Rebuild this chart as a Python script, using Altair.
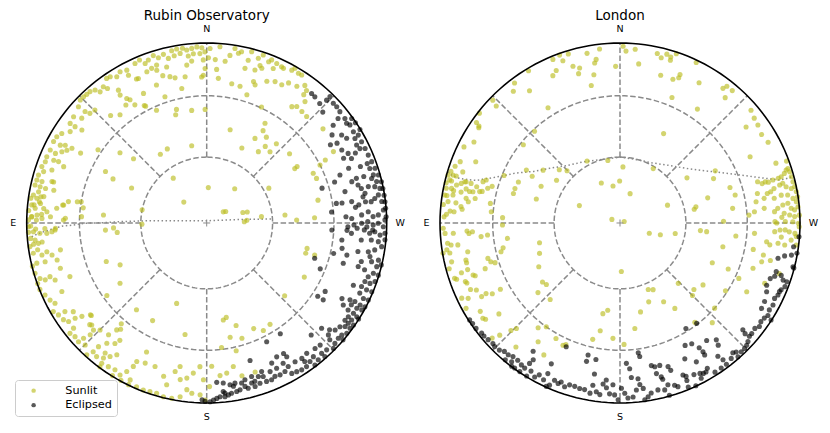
import altair as alt
import pandas as pd

SITES = ["Rubin Observatory", "London"]
STATUS = ["Sunlit", "Eclipsed"]
COLORS = ["#bcbd22", "#000000"]
CARDINALS = [("N", 0), ("E", 90), ("S", 180), ("W", 270)]
RING_ELEVATIONS = [30, 60]
SPOKE_AZIMUTHS = [0, 45, 90, 135, 180, 225, 270, 315]

# (azimuth deg, elevation deg)
rubin_sunlit = [
    (11.5, 2.7), (9.8, 2.2), (7.9, 2.3), (6.6, 3.7), (4.9, 3), (3.2, 2.3), (1.6, 3), (0.6, 5.5), (2.3, 6.5),
    (4.5, 6.3), (6.3, 7.4), (8.9, 5.2), (11, 6), (13.1, 6.8), (14.4, 3.7), (16.3, 4.9), (17.7, 2.7), (19.7, 4.3),
    (21.1, 5.6), (22.4, 2.3), (24.2, 3.2), (17.6, 8.8), (14.4, 11.5), (7.2, 12.6), (5.3, 10.6), (1.2, 10.3),
    (0.6, 15.3), (1.3, 19), (8.4, 19), (12.3, 18.6), (14.1, 17.3), (16.6, 15.7), (18.1, 11.7), (19.6, 9.7),
    (21.6, 10.6), (25.3, 12.2), (27.9, 7.9), (27.6, 4.7), (29.8, 3.6), (31.6, 5.2), (33.4, 3), (34.7, 2.6),
    (37.2, 5.6), (36.4, 7.9), (39.1, 6.8), (40, 4), (41.6, 2.7), (43, 2.6), (44.3, 2.3), (33.6, 12.4),
    (34.1, 15.3), (32.7, 18.9), (31.9, 20.5), (34.4, 21.6), (31.3, 24.2), (26, 21), (27.6, 27.6), (20, 19.5),
    (18.3, 27), (14.9, 35), (10.5, 25), (7.6, 37), (2, 20), (0.8, 37),
    (45.8, 2.3), (47.8, 4.3), (47.5, 9.2), (46.8, 12), (44.7, 12.7), (50, 10.3), (51.4, 6), (53.9, 6.8),
    (53.8, 10.3), (53.3, 14.6), (56.2, 9.6), (58.3, 6), (60.1, 4.4), (62, 4.1), (62, 8.7), (61.2, 11.3),
    (61, 15.5), (62.5, 13.5), (63.8, 11.3), (65.3, 8.3), (65, 4.6), (67.5, 4.3), (69.2, 4.6), (71.1, 3.6),
    (67.7, 9), (67.5, 11.9), (68.5, 15.7), (71.1, 10), (72.5, 5.6), (74.1, 3.2), (75.8, 3), (75.9, 6.3),
    (77.5, 2.6), (77.7, 5.9), (77.9, 9.3), (75, 12), (77.9, 14.2), (79.5, 5.6), (80.8, 2.8), (81.7, 5.2),
    (80.8, 9.2), (83.3, 7.8), (84.1, 2.6), (85.1, 4.9), (84.9, 10), (86, 12), (87.3, 6.3), (87.9, 3.1),
    (89, 1.1), (88.4, 9.3), (87.7, 14.2), (84.4, 17.4), (82.8, 21), (81.2, 23.3), (88.1, 22.5), (80.4, 30),
    (87.1, 31), (88.8, 21.5),
    (38.7, 24), (41.8, 21), (51, 38), (48.7, 45), (34, 52), (16, 37.5), (28, 51.5), (11, 54), (47.6, 76),
    (36.7, 64.6), (63, 37), (64.8, 42), (65, 52), (56, 28), (61, 21), (80.7, 28), (83, 31.5), (85.6, 42),
    (75, 13), (24, 32), (28, 27), (26, 12),
    (94, 43), (93, 47), (96, 48.6), (78.5, 60), (91, 60.5), (82.8, 7), (81, 7.5), (82.9, 20.5), (92, 17),
    (92, 11), (96.6, 8.8), (86, 1), (88, 3), (91, 2.5), (93, 1), (95, 2), (97, 3.5), (84, 4), (82, 1.5),
    (89, 6), (92, 5.5), (99, 5.5), (87, 9),
    (91.2, 1.1), (92.9, 4.1), (93.5, 7.9), (93.7, 12), (93.2, 15), (92.6, 16.8), (95.7, 4.7), (96.9, 6.5),
    (97.6, 1.1), (99.9, 2.5), (101, 7.5), (100.2, 10.7), (101.7, 13.3), (100.4, 18.5), (103.9, 15.5),
    (103.5, 8.5), (103.3, 3.4), (103.9, 0.3), (106.3, 0.7), (108.4, 2.7), (109.4, 5.5), (108.9, 8.8),
    (110.6, 11), (107.2, 16), (111.4, 19.5), (109.7, 0.3), (111.7, 0.3), (114, 1.9), (116.2, 3.4),
    (117.9, 5.2), (115.3, 12), (122, 7.9), (120, 1.8), (121.8, 3.5), (124, 4.5), (125.5, 6.4), (123.6, 12),
    (125.9, 10.7), (126.8, 14.5), (128.3, 18.8), (131.6, 15.7), (133.4, 14.5), (128.3, 6.4), (128.9, 2.7),
    (130.8, 3.8), (132.8, 3.3), (133.1, 7), (135.1, 4.9), (133.8, 11.3), (135.1, 17.2), (138.7, 18.5),
    (139.9, 23.4), (143.5, 20), (142.7, 17), (140.3, 14.2), (138.8, 9.6), (138.6, 5.2), (137.7, 1.1),
    (140.5, 4.3), (142.6, 6.2), (144.1, 9.3), (145.7, 12.4), (143.2, 3), (145.6, 3.7), (148, 4.3),
    (150.3, 3.2), (151.7, 7), (152.9, 11.5), (153.2, 14.9), (156.3, 16.1), (160.2, 16.4), (164.3, 12.6),
    (166.1, 8.2), (168, 16.8), (169.5, 20), (170.4, 12.8), (172.7, 14.2), (174.9, 17.4), (177.3, 21.2),
    (178.8, 14), (154, 3.4), (156.8, 1.2), (159.2, 0.9), (161.4, 1.3), (163.6, 1.6), (166, 0.6), (168.7, 0.8),
    (171.3, 2.7), (173.2, 7.5), (175, 5.7), (177.8, 5), (179.5, 1.9), (151.4, 0.5), (154.2, 0.3),
    (148.3, 0.4), (155, 22), (151, 38), (141, 38), (126, 32), (124.8, 41), (111, 40), (115.8, 45.6),
    (159.5, 50.6), (169, 37), (143.4, 0.6), (142, 9.2), (141, 25), (139.7, 27.5), (128.7, 19), (131, 15),
    (185, 16), (193, 14), (181, 10), (193, 28), (190.5, 20), (186.8, 31), (182, 21.5), (198, 14), (187.6, 17),
    (255.8, 42), (253, 42), (253.5, 37.5), (241, 38), (227, 40.5), (189.7, 44.5), (191.7, 45.5), (196, 40.5),
    (204, 36), (207.8, 33), (212, 34), (191.6, 35.5), (197, 33.5),
    (352.1, 6.7), (348.5, 3.3), (345.7, 7.4), (341.3, 8.4), (338.3, 2.8), (334.4, 4.2), (330.3, 1.1),
    (327.3, 2.6), (355.4, 20.5), (356.3, 15.6), (349.8, 22.5), (346.3, 22.9), (342.6, 26.3), (340.7, 19.8),
    (341.7, 18.3), (337, 15.6), (334.2, 13.8), (331.5, 13.7), (329.7, 10.8), (326.6, 9.9), (324.5, 6.8),
    (323, 8.7), (322.9, 11.6), (358.9, 3.4), (355.7, 2.1), (350.8, 2), (349.4, 4.6), (345.3, 1.8),
    (342.6, 4.6), (341.4, 1.7), (339, 4.5), (336.3, 3.6), (333.6, 4.6), (330.9, 3.2), (328.5, 2.8),
    (340.4, 9.6), (342.5, 11.9), (346.1, 12.5), (353.5, 10.5), (357, 10), (359.4, 9), (336.7, 7.3),
    (334.7, 29.5), (323.8, 21), (322.3, 19.3), (321, 14.3), (319.5, 19.7), (316.8, 20), (329.7, 36),
    (328.6, 39.7), (325.2, 41.5), (318.7, 41), (330.3, 45), (334.9, 52), (324.1, 49.5), (322.6, 45.5),
    (318.4, 46), (309.9, 39.8), (302, 40.5), (301.7, 42), (295, 35), (292.1, 34.5), (298, 26.3), (309, 18),
    (299.4, 20.3), (297.1, 30), (281.6, 37), (357.4, 74), (320.7, 70), (299.3, 57.5), (301, 80), (286.2, 73),
    (285.2, 71), (274, 71.8), (276.6, 65), (275.8, 54), (271.9, 48.6), (272.8, 39.8), (345.9, 45.6),
    (304, 81), (272, 73),
]

rubin_eclipsed = [
    (321, 8.2), (319.4, 8.5), (316.6, 9.5), (313.7, 11.8), (315.7, 5.2), (315.7, 2.2), (313.4, 3.6),
    (311.8, 3.5), (309.9, 4), (308.5, 7.5), (307.1, 4.2), (305.5, 5.1), (304.4, 4), (301.9, 4.5), (299.7, 5.8),
    (300.1, 3), (297.7, 3.2), (295.9, 6), (295.2, 3.1), (292.8, 3), (290.3, 5.5), (290.4, 2.5), (288.5, 5),
    (288, 1.9), (286.1, 4.1), (285.6, 1.1), (283.7, 3.2), (283.3, 0.3), (281.3, 2.1), (281.1, 0.3),
    (278.9, 0.3), (279.3, 3.8), (276.8, 0.3), (277, 2.3), (274.7, 0.3), (274.2, 1.8), (272, 0.3), (271, 1.1),
    (272.7, 5.1), (272.2, 8.3), (274, 11), (277.4, 8.7), (278.3, 6.3), (280.6, 11.5), (282.7, 8.8),
    (282.6, 13), (284.1, 14.4), (286.6, 14.3), (285.9, 17.3), (290.2, 9.9), (286.5, 9.9), (295.2, 9.6),
    (294, 13), (296.2, 13.5), (295.3, 17), (298.4, 15.8), (301.5, 16.2), (305.1, 16), (307.7, 12.2),
    (302.3, 19.8), (291.1, 16.6), (289.8, 22.4), (287.8, 26.3), (282.8, 22.3), (278.6, 28), (286.8, 33.5),
    (278.4, 19.7), (276.8, 16), (272.6, 23.6), (271.8, 20.5), (273, 14.9), (297.5, 6.8), (301.4, 0.3),
    (304, 0.4), (305.8, 0.8), (303.1, 11.5), (301.2, 10), (282.2, 5), (285.1, 5.7),
    (266.8, 31), (267, 23), (268, 17.5), (268.6, 12), (267.6, 8.5), (275, 31), (278.4, 25), (276, 18),
    (277.6, 12), (279.5, 13),
    (269.2, 19.3), (269.9, 15), (270.5, 11.5), (269.3, 8.3), (269.9, 5.3), (268.8, 2.1), (266.7, 0.9),
    (266, 3.9), (267, 7.2), (266.4, 10.2), (267.5, 13.4), (264.1, 8.9), (263.8, 4.6), (262.3, 2.2),
    (264.6, 0.6), (260.9, 6.1), (259.9, 9.7), (258.4, 8.2), (256.8, 6.6), (257.8, 2.7), (255.6, 2.8),
    (256.5, 0.3), (253.2, 3.7), (251.6, 6.1), (249.7, 3.7), (250.8, 1.1), (253.1, 0.4), (249.7, 7),
    (247.7, 7.8), (247.3, 4.2), (247.4, 0.8), (244.5, 0.6), (244.3, 3.8), (241.9, 3.8), (240.4, 4.6),
    (240.7, 1.4), (242.1, 0.6), (240.5, 8.5), (238.4, 8.6), (238.4, 4.8), (238, 1.9), (237.7, 0.2),
    (236.2, 3.5), (234.7, 4.1), (233.2, 4.5), (233.7, 1.4), (235.2, 0.8), (231.8, 1.1), (230.3, 2.8),
    (228.8, 3.2), (229.4, 0.3), (226.8, 2.6), (226.5, 6.4), (225.3, 1.1), (223.4, 3.4), (221.4, 3.9),
    (221.5, 1.1), (219.2, 2.2), (218.6, 5.6), (216.7, 4.5), (217.3, 0.9), (215.3, 6.4), (214.8, 3.2),
    (212.9, 3.2), (211.2, 3.9), (209.5, 4.5), (209.6, 9.2), (207.8, 7.5), (205.8, 7), (204, 7.5),
    (202.5, 6.4), (200.7, 6.6), (200.2, 10), (198.6, 11), (198.4, 6.9), (196.5, 5.9), (195.7, 8.5),
    (194.1, 6), (193.2, 7.5), (191.3, 6.1), (190.1, 5.5), (188.3, 5), (187.2, 4.2), (186, 3.4), (184.4, 3.6),
    (183.3, 2.7), (182.2, 1.8), (181.1, 0.8), (185.6, 6.6), (189.3, 8.9), (192.3, 9.9), (196.3, 12.2),
    (200.3, 13.1), (203.1, 11.2), (205.7, 11.4), (208.6, 12.3), (212.5, 9.5), (215.1, 8.9), (217.5, 9.6),
    (220.8, 8.7), (222.9, 8.2), (227.4, 9), (230.2, 7.9), (232.1, 6.9), (234.9, 6.8), (236.5, 6.3),
    (242.1, 7.6), (245.4, 7.2), (253.5, 9.4), (256, 12.5), (259.3, 15.6), (263.7, 14.7), (265.9, 20.5),
    (268.5, 22.6), (259.4, 24.5), (253.6, 22), (254, 13.5), (247, 12.5), (240.8, 15), (229, 10.5), (223, 16),
    (213.6, 27), (206.8, 27), (197.5, 21), (210.5, 17), (251.9, 37), (248, 32.5), (240, 25), (236.6, 27),
    (236.6, 23.5), (241.8, 10.6), (239, 12.5), (227.5, 14.5), (193.7, 11.3), (190, 10.6), (183.6, 12.3),
    (185.9, 11.6), (188.2, 10.1), (210.9, 14.5), (207.6, 17.2), (204.9, 15.3), (196.9, 8.9), (186.1, 5.6),
    (262.8, 25.3), (257.1, 21.2), (256.5, 28.3), (178.5, 2), (179.5, 1),
]

london_sunlit = [
    (19.8, 1), (17, 2), (11, 4.5), (6.7, 3), (22.3, 2), (19.4, 5), (16.7, 10), (14.6, 12), (8.3, 9), (9, 11),
    (1.6, 14), (22.7, 9), (24.5, 11), (15.5, 15), (10, 17.5), (11.8, 23), (31, 1.5), (37, 3), (39, 6.5),
    (34.4, 12), (32, 25.5), (46.6, 6), (46, 2), (52, 1), (55, 3), (55.5, 5.5), (56, 6), (43, 31), (51, 31.5),
    (61, 8), (64, 4), (67, 14), (69, 5.5), (28, 58), (11, 61), (48.7, 53), (45.4, 56), (60.5, 40),
    (55.5, 47), (67.7, 31), (68, 39), (62, 44), (56, 55), (25, 70), (0.5, 71), (10.7, 73), (65, 50),
    (71.8, 38.5), (74.5, 38.5), (74, 50), (66.8, 70), (66, 86), (87.4, 35), (85, 29), (81.4, 28), (74, 27),
    (75.3, 25), (77.1, 22.5), (75.8, 19), (78.2, 15.7), (80.9, 14.5), (84.1, 12.2), (86.1, 8.4), (87.1, 3.9),
    (82.9, 4.2), (80.5, 6.6), (78.4, 5), (76.9, 7.5), (76, 10), (75.1, 11.8), (75.1, 15.5), (78, 17.6),
    (77.4, 21.2), (73.2, 21.6), (72.2, 23), (74.4, 0.9), (75.8, 2.7), (74, 3.9), (78.7, 1.8), (80.9, 1.6),
    (77.5, 13.5), (80.4, 19.5), (73, 2), (76, 4), (77, 1), (79, 6.5), (81, 3), (83, 9), (84, 1.5), (86, 6),
    (74, 6), (72, 9), (79, 11), (82, 16), (88, 2.5), (85, 13), (71, 3.5), (75, 12.5),
    (359, 2), (358, 5), (355, 3.5), (353.3, 12), (347.6, 4), (346, 6), (344.5, 3), (343, 4), (342.8, 6),
    (341.6, 1), (344.6, 16), (339.8, 16), (338, 14), (338, 12), (334.6, 1.5), (330.6, 11.5), (322.6, 6.5),
    (322, 4), (320, 10), (319.7, 4), (337.5, 25.5), (325.8, 24.5), (334, 44), (310.7, 4.5), (308, 6),
    (305.4, 6.7), (302, 8), (307.3, 13), (298.6, 7), (297, 20), (291, 8), (290.4, 1.5), (357, 64.5),
    (328.6, 61), (304, 53), (298.7, 39.5), (295.4, 42), (287.9, 36), (283.7, 34.5), (286, 48), (280.5, 55.5),
    (282, 54.5), (290.6, 67), (341, 76), (290, 88), (271, 42), (277.4, 37), (273.5, 29), (270.5, 15),
    (272, 11), (274.8, 26),
    (286.7, 21.3), (285.5, 19.2), (285.8, 17.3), (285.4, 15.6), (285.7, 12.8), (285.8, 9.5), (286, 7.6),
    (286.8, 5.2), (287.7, 3.5), (288, 2.2), (286.8, 1.7), (285.1, 1.6), (283.4, 1.4), (281.8, 1), (280.1, 0.6),
    (278.4, 0.3), (281.4, 3.3), (282.3, 6.2), (283.7, 7.7), (283.4, 9.7), (282.6, 13.4), (281.7, 15.6),
    (281.3, 17.7), (279.7, 19.9), (279.1, 14.3), (279.8, 10), (279.5, 6.2), (278.1, 3.3), (276.9, 1.5),
    (275.2, 0.8), (274.3, 3.1), (274.9, 5.1), (276.7, 6.8), (276.3, 9.9), (275.3, 13), (274.2, 15),
    (273.4, 9.5), (272.7, 6.3), (272.1, 3.3), (272.5, 0.3), (282.1, 23), (278.9, 24.5), (275.8, 20.6),
    (91.7, 2), (93.4, 3), (93.5, 8), (93, 16), (94, 17), (93.4, 19), (95.6, 23.5), (95.2, 27), (91, 35),
    (96.7, 4), (97.4, 6), (98.8, 3), (97.7, 10), (99.7, 0.3), (100, 4.5), (100.7, 15), (103.5, 13),
    (104.5, 13), (103, 4.5), (105, 2), (107, 12.5), (107.4, 8.5), (108.5, 3.5), (109, 4.5), (110.7, 9),
    (111.4, 9.5), (109.5, 14.5), (110, 15.5), (114, 10), (115, 13), (117.8, 17), (115.4, 3), (116.4, 6.5),
    (118, 14), (122.3, 9), (119, 2.5), (124.8, 8), (125.6, 9), (119, 20), (119, 25), (105, 25), (106.7, 26),
    (107.6, 28), (108.7, 22), (102, 34), (103.6, 32.5), (97.8, 37), (103.8, 52), (110.7, 50.5), (118.3, 47.5),
    (127.3, 45), (129.9, 45.7), (130.3, 40), (137.6, 42), (126.9, 17), (134.6, 16), (135.5, 19), (132, 5),
    (133, 9.5), (140, 11), (142, 27), (144.6, 30), (145.4, 21), (150, 16.5), (151, 27.5), (155, 26),
    (156, 27), (166.8, 34), (169.6, 39), (169.3, 47.5), (172, 49.5), (176.5, 36), (181.6, 68),
    (250.8, 76), (253.8, 71), (259.3, 64.5), (264.6, 53), (264.3, 50), (263.6, 35.5), (257, 41), (265.6, 26),
    (258.8, 25.5), (257.4, 19.5), (262.7, 19), (261.7, 17), (266.8, 15), (267.5, 12), (267.6, 9), (267, 6.5),
    (266.6, 3), (265, 11), (262.7, 12.5), (262.4, 8.5), (264.3, 5), (262.9, 1.5), (265.6, 2), (268.8, 0.5),
    (269.9, 1), (270.4, 4.5), (270.5, 9), (270, 14), (254.7, 19.5), (256, 15), (251.2, 23), (247, 35),
    (246.7, 43.5), (245, 28), (247.4, 14), (252.4, 8), (241.5, 21), (237.3, 31), (233.3, 42), (228, 44),
    (224, 51.5), (225, 42.5), (203, 57), (206.4, 56), (200, 51.5), (209, 48.6), (193, 48), (212.7, 43),
    (188, 40.5), (181.9, 33), (217, 31.5), (222.8, 25.5), (228, 30),
]

london_eclipsed = [
    (122.8, 0.7), (124.3, 1), (126.2, 1), (128.5, 2), (129.7, 2), (131.5, 2.5), (133.5, 3), (134.6, 2.5),
    (136.5, 3), (138, 4.5), (139.7, 4.5), (141.3, 5.5), (142, 2.5), (143.3, 5.5), (145.2, 4.5), (146.7, 4),
    (147.2, 8), (147.6, 11), (149, 4.5), (151, 2.5), (152, 5), (154, 3.5), (154.4, 8), (154, 14),
    (157.4, 6), (158.9, 5), (159.7, 6.5), (161.3, 4.5), (162.7, 6.5), (164.5, 6.5), (166.3, 6), (168, 6),
    (170, 4.5), (170.5, 9.5), (172, 6), (173.3, 4.5), (174, 11), (175.3, 9), (176.5, 5.5), (178.2, 5),
    (179.4, 2), (156.5, 26), (166.4, 25.5), (166.4, 22), (170, 24), (170.4, 16), (177.5, 11), (175, 13.5),
    (155.7, 0.5), (156.5, 2), (148.6, 0.5), (146, 0.5), (144, 0.5), (140, 1), (145.9, 15), (142.9, 0.3),
    (180.5, 9), (181.6, 6), (182.6, 3), (184.3, 3.5), (185.6, 7.5), (187, 10.5), (188, 8), (186.6, 14),
    (184.2, 15), (182.6, 23), (183.8, 20), (188, 28), (188.4, 26), (192.4, 20), (193.6, 19), (195.6, 19),
    (198.5, 17), (199, 14.5), (193.6, 15), (195, 12.5), (195.3, 11), (196.5, 7), (198.6, 5.5), (202.5, 9.5),
    (203.3, 8), (203, 5.5), (206, 7), (208, 6), (209, 5), (210, 5), (211, 6.5), (208.8, 13), (205.5, 17.5),
    (208, 24), (210.7, 23), (212.4, 19), (212.8, 16), (212.7, 14), (216.4, 20), (219.5, 17), (218.8, 14),
    (212, 31.5), (217.4, 30.5), (216.3, 9), (217, 5.5), (217, 2), (219.4, 3), (221, 5), (222, 4), (221.4, 1),
    (223.3, 2), (224.8, 2), (226, 2.5), (227.2, 3.5), (228.8, 5), (230, 5), (229, 10.5), (228.5, 8),
    (232, 5.5), (233.4, 4), (235, 5), (236.6, 4.5), (238, 3.5), (239.8, 4.5), (238.9, 9), (241.5, 9.5),
    (237.3, 0.3), (241.8, 4), (244, 5), (245.5, 4), (246.7, 4), (247.5, 3.5), (248.9, 2), (250.6, 2),
    (250.7, 4.5), (252, 6.5), (251, 10), (249.7, 12), (247, 12.5), (244.9, 11), (252.7, 10), (257.4, 11),
    (258.7, 7.5), (259.4, 3.5), (255.8, 1), (255.5, 0.3), (260.3, 0.3), (262.2, 3), (265.6, 0.3), (188, 1),
    (189.2, 2.5), (190.4, 4.5), (192.8, 5.5), (195, 4.5), (199.5, 4), (202.6, 1.5), (207.6, 3), (212.5, 2),
    (214.9, 2), (205, 0.3), (196, 0.5),
]

# dotted tracks (azimuth, elevation)
rubin_track = [
    (94.5, 2.8), (93.8, 6), (93.2, 9.3), (92.8, 12.3), (92, 16), (91.2, 21.3), (90.9, 26.5), (90.1, 33),
    (89.8, 42), (89.1, 50), (87.5, 65.5), (81.5, 82.8), (0, 89), (276, 75), (273.5, 59.6),
]
london_track = [
    (73.4, 0.3), (74.1, 3), (74.5, 6.5), (74.3, 10.5), (74, 14), (73.5, 17.9), (72.2, 21.3), (70.4, 26),
    (68, 30.6), (64.4, 36), (59.1, 43.5), (52.1, 49), (43.3, 54), (31.8, 57.3), (18.1, 59.7), (0, 60),
    (346.9, 60.2), (332.3, 59), (320, 55.6), (310.2, 51), (303.1, 45.5), (297.6, 38.9), (293, 31.4),
    (289.4, 23.4), (286.6, 15), (285.2, 9.6), (284.9, 6), (285, 2.7), (285.1, 1.1),
]

# ---------------- tables ----------------
rows = []
for site, status, pairs in [
    (SITES[0], STATUS[0], rubin_sunlit), (SITES[0], STATUS[1], rubin_eclipsed),
    (SITES[1], STATUS[0], london_sunlit), (SITES[1], STATUS[1], london_eclipsed),
]:
    rows += [{"site": site, "status": status, "az": a, "elev": e} for a, e in pairs]
points = pd.DataFrame(rows)

tracks = pd.DataFrame(
    [{"site": SITES[0], "i": i, "az": a, "elev": e} for i, (a, e) in enumerate(rubin_track)]
    + [{"site": SITES[1], "i": i, "az": a, "elev": e} for i, (a, e) in enumerate(london_track)]
)

ring_rows, spoke_rows = [], []
for site in SITES:
    for ring in [0] + RING_ELEVATIONS:
        for i, a in enumerate(range(0, 361, 2)):
            ring_rows.append({"site": site, "ring": ring, "key": f"{site}|{ring}", "i": i, "az": a, "elev": ring})
    for a in SPOKE_AZIMUTHS:
        for i, e in enumerate([RING_ELEVATIONS[-1], 0]):
            spoke_rows.append({"site": site, "key": f"{site}|{a}", "i": i, "az": a, "elev": e})
rings = pd.DataFrame(ring_rows)
spokes = pd.DataFrame(spoke_rows)

centers = pd.DataFrame([{"site": s, "az": 0, "elev": 90} for s in SITES])
labels = pd.DataFrame([{"site": s, "label": lab, "az": a} for s in SITES for lab, a in CARDINALS])
titles = pd.DataFrame([{"site": s} for s in SITES])

# ---------------- projection (equal-area zenithal) ----------------
OFF = "datum.site == 'London' ? 2.2961 : 0"


def project(ch):
    return ch.transform_calculate(
        off=OFF,
        r="sqrt(1 - sin(datum.elev * PI / 180))",
        x="datum.off - datum.r * sin(datum.az * PI / 180)",
        y="datum.r * cos(datum.az * PI / 180)",
    )


XS = alt.Scale(domain=[-1.1039, 3.4183], nice=False, zero=False)
YS = alt.Scale(domain=[-1.1222, 1.1944], nice=False, zero=False)
X = alt.X("x:Q", scale=XS, axis=None)
Y = alt.Y("y:Q", scale=YS, axis=None)
GREY = "#8a8a8a"

ring_layer = project(alt.Chart(rings).transform_filter("datum.ring > 0")).mark_line(
    color=GREY, strokeWidth=1.5, strokeDash=[5.5, 2.5]
).encode(x=X, y=Y, detail="key:N", order="i:Q")

outer_layer = project(alt.Chart(rings).transform_filter("datum.ring == 0")).mark_line(
    color="black", strokeWidth=1.6
).encode(x=X, y=Y, detail="key:N", order="i:Q")

spoke_layer = project(alt.Chart(spokes)).mark_line(
    color=GREY, strokeWidth=1.5, strokeDash=[5.5, 2.5]
).encode(x=X, y=Y, detail="key:N", order="i:Q")

track_layer = project(alt.Chart(tracks)).mark_line(
    color=GREY, strokeWidth=1.5, strokeDash=[1.5, 2.5]
).encode(x=X, y=Y, detail="site:N", order="i:Q")

point_layer = project(alt.Chart(points)).mark_circle(size=26, opacity=0.65).encode(
    x=X, y=Y,
    color=alt.Color(
        "status:N",
        scale=alt.Scale(domain=STATUS, range=COLORS),
        legend=alt.Legend(
            title=None, orient="none", legendX=7, legendY=372, direction="vertical",
            labelFont="DejaVu Sans", labelFontSize=11.25, labelColor="black",
            symbolType="circle", symbolSize=20, symbolOpacity=0.65, symbolStrokeWidth=0,
            symbolOffset=8, labelOffset=26, rowPadding=2.5, padding=5,
            strokeColor="#cccccc", fillColor="white", cornerRadius=3,
        ),
    ),
)

center_layer = project(alt.Chart(centers)).mark_point(
    shape="M-1,0L1,0M0,-1L0,1", filled=False, color=GREY, strokeWidth=1, size=49, opacity=1
).encode(x=X, y=Y)

label_layer = alt.Chart(labels).transform_calculate(
    off=OFF,
    x="datum.off - 1.075 * sin(datum.az * PI / 180)",
    y="1.075 * cos(datum.az * PI / 180)",
).mark_text(font="DejaVu Sans", fontSize=9.5, color="black", align="center", baseline="middle").encode(
    x=X, y=Y, text="label:N"
)

title_layer = alt.Chart(titles).transform_calculate(off=OFF).mark_text(
    font="DejaVu Sans", fontSize=13.5, color="black", align="center", baseline="alphabetic"
).encode(
    x=alt.X("off:Q", scale=XS, axis=None),
    y=alt.value(12),
    text="site:N",
)

chart = alt.layer(
    ring_layer, spoke_layer, track_layer, point_layer, outer_layer, center_layer, label_layer, title_layer
).properties(
    width=814, height=417, padding=0, autosize=alt.AutoSizeParams(type="none")
).configure_view(stroke=None, fill="white")

chart.save("out.html", embed_options={"renderer": "svg", "actions": False})
